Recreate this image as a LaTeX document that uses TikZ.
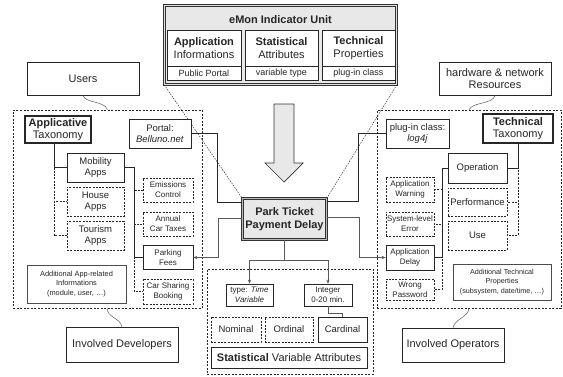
\documentclass[tikz,border=0pt]{standalone}
\usepackage{fontspec}
\setmainfont{Liberation Sans}
\usetikzlibrary{arrows.meta}
\begin{document}
\begin{tikzpicture}[x=1pt,y=-1pt,
  every node/.style={text=black!85},
  box/.style={draw=black!85, line width=0.7pt, fill=white, inner sep=0pt, align=center},
  dbox/.style={box, dash pattern=on 2pt off 1.3pt, line width=0.65pt},
  thickbox/.style={box, line width=1.3pt},
  region/.style={draw=black!85, line width=0.6pt, dash pattern=on 2pt off 1.5pt, inner sep=0pt},
  fL/.style={font=\fontsize{11}{12.5}\selectfont},
  fM/.style={font=\fontsize{9.5}{11.5}\selectfont},
  fS/.style={font=\fontsize{8}{9.8}\selectfont},
  fXS/.style={font=\fontsize{7.4}{9.4}\selectfont},
  conn/.style={draw=black!85, line width=0.9pt},
  tconn/.style={draw=black!65, line width=0.55pt},
  dconn/.style={draw=black!85, line width=0.7pt, dash pattern=on 2pt off 1.3pt},
  zoomline/.style={draw=black!80, line width=0.5pt, dash pattern=on 1.5pt off 1.2pt},
  wave/.style={draw=black!65, line width=0.5pt},
  tip/.style={-{Stealth[length=4pt,width=3.2pt]}},
]
\useasboundingbox (0,0) rectangle (563,376);

% regions
\node[region, minimum width=189pt, minimum height=198pt] (leftreg) at (107.5,209) {};
\node[region, minimum width=166pt, minimum height=105pt] (midreg) at (290,321.5) {};
\node[region, minimum width=184pt, minimum height=198pt] (rightreg) at (469,209) {};

% eMon indicator unit
\node[draw=black!80, line width=0.6pt, double=gray!25, double distance=1.6pt, fill=gray!18,
      minimum width=232pt, minimum height=79pt, inner sep=0pt] (emon) at (280.5,45) {};
\node[fL, font=\fontsize{11}{12.5}\selectfont\bfseries] (emontitle) at (280.5,20) {eMon Indicator Unit};
\node[box, fL, minimum width=74pt, minimum height=36pt] (appT) at (204,48) {\textbf{Application}\\Informations};
\node[box, font=\fontsize{9}{10}\selectfont, minimum width=74pt, minimum height=14pt] (appB) at (204,73) {Public Portal};
\node[box, fL, minimum width=73pt, minimum height=36pt] (statT) at (281.5,48) {\textbf{Statistical}\\Attributes};
\node[box, font=\fontsize{9}{10}\selectfont, minimum width=73pt, minimum height=14pt] (statB) at (281.5,73) {variable type};
\node[box, fL, minimum width=73pt, minimum height=36pt] (techT) at (358.5,48) {\textbf{Technical}\\Properties};
\node[box, font=\fontsize{9}{10}\selectfont, minimum width=73pt, minimum height=14pt] (techB) at (358.5,73) {plug-in class};

% big arrow
\draw[draw=black!80, line width=0.7pt, fill=gray!18]
  (274,104) -- (294,104) -- (294,163) -- (303,163) -- (284,182) -- (265,163) -- (274,163) -- cycle;

% central node
\node[draw=black!80, line width=0.6pt, double=gray!55, double distance=1.8pt, fill=gray!18,
      minimum width=84pt, minimum height=41pt, inner sep=0pt, align=center,
      font=\fontsize{11}{13}\selectfont\bfseries] (park) at (284.5,219) {Park Ticket\\Payment Delay};

% zoom lines
\draw[zoomline] (emon.south west) -- (park.north west);
\draw[zoomline] (emon.south east) -- (park.north east);

% left side
\node[box, fL, minimum width=112pt, minimum height=33pt] (users) at (83,78.5) {Users};
\node[thickbox, fL, minimum width=66pt, minimum height=27pt] (apptax) at (58,129.5) {\textbf{Applicative}\\Taxonomy};
\node[box, fM, minimum width=62pt, minimum height=29pt] (portal) at (160,133.5) {Portal:\\\textit{Belluno.net}};
\node[box, fM, minimum width=57pt, minimum height=29pt] (mobility) at (95.5,167.5) {Mobility\\Apps};
\node[dbox, fM, minimum width=57pt, minimum height=29pt] (house) at (95.5,201.5) {House\\Apps};
\node[dbox, fM, minimum width=57pt, minimum height=29pt] (tourism) at (95.5,235.5) {Tourism\\Apps};
\node[dbox, fS, minimum width=50pt, minimum height=24pt] (emissions) at (168,190) {Emissions\\Control};
\node[dbox, fS, minimum width=50pt, minimum height=24pt] (annual) at (168,224) {Annual\\Car Taxes};
\node[box, fS, minimum width=50pt, minimum height=24pt] (parking) at (168,257.5) {Parking\\Fees};
\node[dbox, fS, minimum width=50pt, minimum height=25pt] (carsharing) at (168,291.5) {Car Sharing\\Booking};
\node[box, fXS, line width=1pt, draw=black!70, minimum width=99pt, minimum height=38pt] (addapp) at (76.5,284) {Additional App-related\\Informations\\(module, user, \dots)};
\node[box, fL, minimum width=112pt, minimum height=35pt] (developers) at (122,344.5) {Involved Developers};

% right side
\node[box, fL, minimum width=112pt, minimum height=33pt] (hw) at (495,78.5) {hardware \& network\\Resources};
\node[box, fM, minimum width=63pt, minimum height=29pt] (plugin) at (417.5,133.5) {plug-in class:\\\textit{log4j}};
\node[thickbox, fL, minimum width=70pt, minimum height=29pt] (techtax) at (518,128.5) {\textbf{Technical}\\Taxonomy};
\node[box, fM, minimum width=59pt, minimum height=30pt] (operation) at (477.5,168) {Operation};
\node[dbox, fM, minimum width=59pt, minimum height=28pt] (performance) at (477.5,202) {Performance};
\node[dbox, fM, minimum width=59pt, minimum height=29pt] (use) at (477.5,235.5) {Use};
\node[dbox, fS, minimum width=48pt, minimum height=25pt] (appwarn) at (410,189.5) {Application\\Warning};
\node[dbox, fS, minimum width=48pt, minimum height=24pt] (syserr) at (410,224) {System-level\\Error};
\node[box, fS, minimum width=48pt, minimum height=25pt] (appdelay) at (410,257.5) {Application\\Delay};
\node[dbox, fS, minimum width=48pt, minimum height=21pt] (wrongpw) at (410,289.5) {Wrong\\Password};
\node[box, font=\fontsize{7.2}{9.2}\selectfont, line width=1pt, draw=black!70, minimum width=98pt, minimum height=36pt] (addtech) at (502,282) {Additional Technical\\Properties\\(subsystem, date/time, \dots)};
\node[box, fL, minimum width=102pt, minimum height=34pt] (operators) at (453,345) {Involved Operators};

% center bottom
\node[box, fS, minimum width=47pt, minimum height=22pt] (typebox) at (249.5,295) {type: \textit{Time}\\\textit{Variable}};
\node[box, fS, minimum width=48pt, minimum height=22pt] (intbox) at (328,295) {Integer\\0-20 min.};
\node[dbox, fM, minimum width=50pt, minimum height=25pt] (nominal) at (236,329.5) {Nominal};
\node[dbox, fM, minimum width=48pt, minimum height=25pt] (ordinal) at (289,329.5) {Ordinal};
\node[box, fM, line width=1pt, minimum width=49pt, minimum height=25pt] (cardinal) at (342.5,329.5) {Cardinal};
\node[box, fL, minimum width=156pt, minimum height=21pt] (statvar) at (289,357.5) {\textbf{Statistical} Variable Attributes};

% wavy connectors
\draw[wave] (users.south) .. controls +(2,8) and +(-3,-9) .. (leftreg.north);
\draw[wave] (hw.south) .. controls +(-2,9) and +(4,-8) .. (rightreg.north);
\draw[wave] (leftreg.south) .. controls +(-1,9) and +(-2,-9) .. (developers.north);
\draw[wave] (rightreg.south) .. controls +(-1,9) and +(2,-9) .. (operators.north);

% taxonomy trees (left)
\draw[conn] ([xshift=-4pt]apptax.south) |- (mobility.west);
\draw[dconn] ([xshift=-4pt]apptax.south |- mobility.west) |- (house.west);
\draw[dconn] ([xshift=-4pt]apptax.south |- mobility.west) |- (tourism.west);
\draw[dconn] (mobility.east) -- ++(10,0) |- (emissions.west);
\draw[dconn] (mobility.east) -- ++(10,0) |- (annual.west);
\draw[dconn] (mobility.east) -- ++(10,0) |- (carsharing.west);
\draw[conn] (mobility.east) -- ++(10,0) |- (parking.west);

% taxonomy trees (right)
\draw[dconn] (techtax.south) |- (performance.east);
\draw[dconn] (techtax.south) |- (use.east);
\draw[conn] (techtax.south) |- (operation.east);
\draw[dconn] (operation.west) -- ++(-5,0) |- (appwarn.east);
\draw[dconn] (operation.west) -- ++(-5,0) |- (syserr.east);
\draw[dconn] (operation.west) -- ++(-5,0) |- (wrongpw.east);
\draw[conn] (operation.west) -- ++(-5,0) |- (appdelay.east);

% central connectors
\draw[conn] (portal.east) -- ++(26,0) |- ([yshift=17pt]park.west);
\draw[conn] (plugin.west) -- ++(-27,0) |- ([yshift=18pt]park.east);
\draw[tconn, tip] ([yshift=1pt]park.west) -- ++(-24,0) |- (parking.east);
\draw[tconn, tip] ([yshift=2pt]park.east) -- ++(32,0) |- (appdelay.west);
\draw[tconn, tip] (park.south) -- ++(0,20) -| (typebox.north);
\draw[tconn, tip] (park.south) -- ++(0,20) -| (intbox.north);
\draw[tconn] (intbox.south) -- ++(0,7) -| (cardinal.north);
\end{tikzpicture}
\end{document}
